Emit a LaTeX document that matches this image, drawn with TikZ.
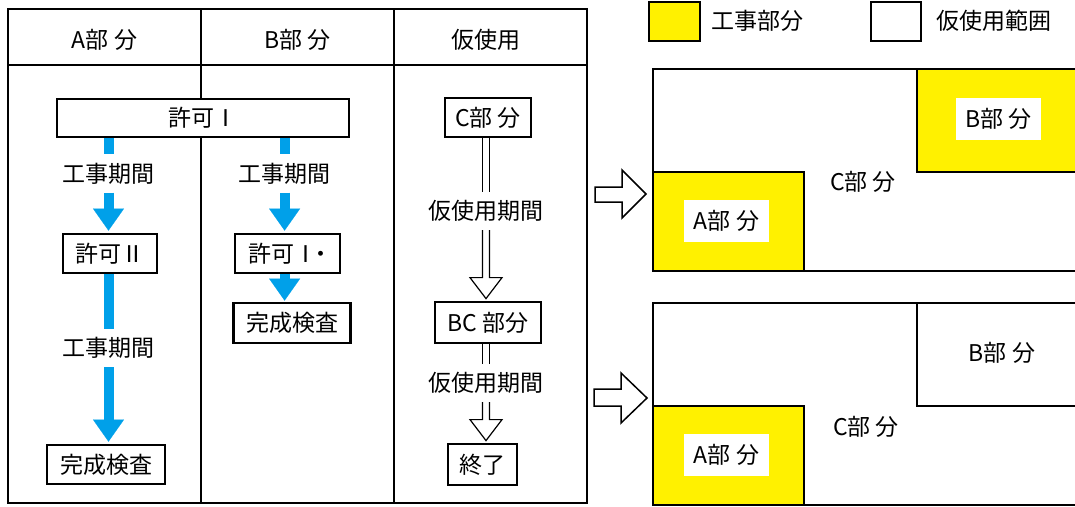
\documentclass[tikz,border=0pt]{standalone}
\usepackage{fontspec}
\setmainfont{Noto Sans CJK JP}
\usetikzlibrary{arrows.meta,calc}
\definecolor{myblue}{HTML}{00A0E9}
\definecolor{myyellow}{HTML}{FFF100}
\newcommand\hshaft[2]{\draw[hollow] let \p1=(#1), \p2=(#2) in (\x1-3.5pt,\y1) -- (\x1-3.5pt,\y2) (\x1+3.5pt,\y1) -- (\x1+3.5pt,\y2);}
\newcommand\harrow[2]{\draw[hollow] let \p1=(#1), \p2=(#2) in (\x1-3.5pt,\y1) -- (\x1-3.5pt,\y2+23pt) -- (\x1-16pt,\y2+23pt) -- (\x1,\y2+2pt) -- (\x1+16pt,\y2+23pt) -- (\x1+3.5pt,\y2+23pt) -- (\x1+3.5pt,\y1);}
\begin{document}
\begin{tikzpicture}[x=1pt,y=-1pt,
  every node/.style={font=\fontsize{23}{27}\selectfont, inner sep=0pt},
  box/.style={draw, line width=2.8pt, fill=white, minimum height=39pt},
  period/.style={minimum height=38pt},
  bluebar/.style={draw=myblue, line width=10pt},
  bluearrow/.style={bluebar, -{Triangle[width=31pt,length=22pt,line width=0.1pt]}},
  hollow/.style={line width=1.2pt, fill=white, line join=miter},
  tbl/.style={line width=2pt},
  plan/.style={line width=2.2pt},
  blockarrow/.style={line width=1.5pt, fill=white, line join=miter},
  lbl/.style={fill=white, minimum width=85pt, minimum height=42pt},
]
\useasboundingbox (0,0) rectangle (1075,506);
% table
\draw[tbl] (8,9) rectangle (587,503);
\draw[tbl] (8,65) -- (587,65);
\draw[tbl] (201,9) -- (201,503);
\draw[tbl] (394,9) -- (394,503);
\node (hA) at (104.5,40) {A部 分};
\node (hB) at (297.5,40) {B部 分};
\node (hC) at (486,40) {仮使用};
% boxes
\node[box, minimum width=292pt, minimum height=38pt] (k1) at (203,118) {許可Ⅰ};
\node[period] (a1) at (108.5,173.5) {工事期間};
\node[box, minimum width=94pt] (a2) at (110,253.5) {許可Ⅱ};
\node[period] (a3) at (108.5,348) {工事期間};
\node[box, minimum width=118pt] (a4) at (106,464.5) {完成検査};
\node[period] (b1) at (284.6,173.5) {工事期間};
\node[box, minimum width=105pt] (b2) at (287.5,253.5) {許可Ⅰ\kern-8pt・\kern-6pt};
\node[box, minimum width=117pt, minimum height=40pt] (b3) at (292,323) {完成検査};
\node[box, minimum width=86pt] (c1) at (488,117.5) {C部 分};
\node[period] (c2) at (486,211) {仮使用期間};
\node[box, minimum width=106pt, minimum height=41pt] (c3) at (488,322.5) {BC 部分};
\node[period] (c4) at (486,383) {仮使用期間};
\node[box, minimum width=69pt, minimum height=41pt] (c5) at (482.5,464.5) {終了};
% blue connectors
\draw[bluebar] (k1.south -| a1.north) -- (a1.north);
\draw[bluearrow] (a1.south) -- ($(a1.south |- a2.north)+(0,-2)$);
\draw[bluebar] (a2.south -| a3.north) -- (a3.north);
\draw[bluearrow] (a3.south) -- ($(a3.south |- a4.north)+(0,-2)$);
\draw[bluebar] (k1.south -| b1.north) -- (b1.north);
\draw[bluearrow] (b1.south) -- ($(b1.south |- b2.north)+(0,-2)$);
\draw[bluearrow] (b2.south -| b1.south) -- ($(b1.south |- b3.north)+(0,-1)$);
% hollow connectors
\hshaft{c1.south -| c2.north}{c2.north}
\harrow{c2.south}{c2.south |- c3.north}
\hshaft{c3.south -| c4.north}{c4.north}
\harrow{c4.south}{c4.south |- c5.north}
% legend
\draw[line width=2.2pt, fill=myyellow] (649,2) rectangle (700,41);
\node[anchor=west] (lg1) at (711,21) {工事部分};
\draw[line width=2.2pt, fill=white] (871,2) rectangle (921,41);
\node[anchor=west] (lg2) at (936,21) {仮使用範囲};
% plan 1
\draw[plan, fill=myyellow] (917,69) rectangle (1080,172);
\draw[plan, fill=myyellow] (653,172) rectangle (804,271);
\draw[plan] (917,69) -- (653,69) -- (653,271) -- (1080,271);
\node[lbl] (p1b) at (998.5,119) {B部 分};
\node[lbl] (p1a) at (726.5,221) {A部 分};
\node (p1c) at (863,182) {C部 分};
% plan 2
\draw[plan] (917,303) rectangle (1080,406);
\draw[plan, fill=myyellow] (653,406) rectangle (804,505);
\draw[plan] (1080,303) -- (653,303) -- (653,505) -- (1080,505);
\node (p2b) at (1002,353) {B部 分};
\node[lbl] (p2a) at (726.5,455) {A部 分};
\node (p2c) at (866,427) {C部 分};
% block arrows
\draw[blockarrow] (595,187) -- (622,187) -- (622,170) -- (646,194) -- (622,218) -- (622,202) -- (595,202) -- cycle;
\draw[blockarrow] (594,389) -- (621,389) -- (621,373) -- (647,398) -- (621,423) -- (621,406) -- (594,406) -- cycle;
\end{tikzpicture}
\end{document}
